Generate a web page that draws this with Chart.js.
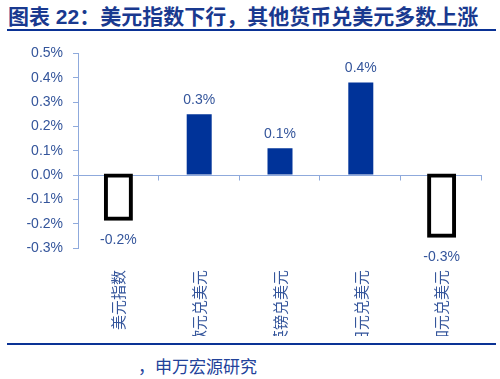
<!DOCTYPE html>
<html>
<head>
<meta charset="utf-8">
<script src="https://cdn.jsdelivr.net/npm/chart.js@4/dist/chart.umd.min.js"></script>
<style>
  html, body { margin: 0; padding: 0; background: #fff; }
  body { width: 500px; height: 379px; position: relative; overflow: hidden; font-family: "Liberation Sans", "Noto Sans CJK SC", sans-serif; }
  #title { position: absolute; left: 8px; top: 4px; font-size: 21px; font-weight: bold; color: #19398F; white-space: nowrap; line-height: 25px; }
  #titleLine { position: absolute; left: 7px; top: 29px; width: 489px; height: 2px; background: #0A3295; }
  #wrap { position: absolute; left: 0; top: 35px; width: 500px; height: 301px; overflow: hidden; }
  #footLine { position: absolute; left: 7px; top: 343px; width: 489px; height: 2px; background: #0A3295; }
  #foot { position: absolute; left: 138px; top: 355px; font-size: 17px; color: #22429A; white-space: nowrap; line-height: 22px; font-family: "Noto Sans CJK SC", sans-serif; }
</style>
</head>
<body>
<div id="title">图表 22：美元指数下行，其他货币兑美元多数上涨</div>
<div id="titleLine"></div>
<div id="wrap"><canvas id="c" width="500" height="301"></canvas></div>
<div id="footLine"></div>
<div id="foot">，申万宏源研究</div>
<script>
const categories = ["美元指数", "欧元兑美元", "英镑兑美元", "日元兑美元", "加元兑美元"];
const changes = [-0.18, 0.25, 0.11, 0.38, -0.25];
const yTicks = [-0.3, -0.2, -0.1, 0.0, 0.1, 0.2, 0.3, 0.4, 0.5];

const AXIS = '#8FAADC';
const TXT = '#34559B';
const NAVY = '#003399';

const labelPlugin = {
  id: 'valueLabels',
  afterDatasetsDraw(chart) {
    const ctx = chart.ctx;
    const meta = chart.getDatasetMeta(0);
    ctx.save();
    ctx.font = '14px "Liberation Sans", Arial, sans-serif';
    ctx.fillStyle = TXT;
    ctx.textAlign = 'center';
    meta.data.forEach((bar, i) => {
      const v = changes[i];
      const txt = v.toFixed(1) + '%';
      if (v >= 0) {
        ctx.textBaseline = 'bottom';
        ctx.fillText(txt, bar.x, bar.y - 7);
      } else {
        ctx.textBaseline = 'top';
        ctx.fillText(txt, bar.x, bar.y + 14);
      }
    });
    ctx.restore();
  }
};

const catTickPlugin = {
  id: 'catTicks',
  afterDatasetsDraw(chart) {
    const x = chart.scales.x, y = chart.scales.y;
    const y0 = Math.round(y.getPixelForValue(0)) + 0.5;
    const ctx = chart.ctx;
    ctx.save();
    ctx.strokeStyle = AXIS;
    ctx.lineWidth = 1;
    ctx.beginPath();
    for (let i = 0; i < categories.length; i++) {
      let px;
      if (i < categories.length - 1) {
        px = (x.getPixelForValue(i) + x.getPixelForValue(i + 1)) / 2;
      } else {
        px = chart.chartArea.right;
      }
      px = Math.round(px) - 0.5;
      ctx.moveTo(px, y0);
      ctx.lineTo(px, y0 + 5);
    }
    ctx.stroke();
    ctx.restore();
  }
};

new Chart(document.getElementById('c'), {
  type: 'bar',
  data: {
    labels: categories,
    datasets: [{
      data: changes,
      backgroundColor: changes.map(v => v < 0 ? '#FFFFFF' : NAVY),
      borderColor: changes.map(v => v < 0 ? '#000000' : NAVY),
      borderWidth: changes.map(v => v < 0 ? 4 : 0),
      inflateAmount: changes.map(v => v < 0 ? 2 : 0),
      borderSkipped: false,
      barThickness: 25
    }]
  },
  options: {
    responsive: false,
    animation: false,
    devicePixelRatio: 1,
    layout: { padding: { top: 16, right: 18, left: 0, bottom: 0 } },
    plugins: { legend: { display: false }, tooltip: { enabled: false } },
    scales: {
      x: {
        grid: { display: false },
        border: { display: false },
        ticks: {
          maxRotation: 90, minRotation: 90, autoSkip: false,
          padding: 14,
          color: TXT,
          font: { family: '"Noto Sans CJK SC", sans-serif', size: 15 }
        },
        afterFit(scale) { scale.height = 88; }
      },
      y: {
        min: -0.3, max: 0.5,
        afterBuildTicks(scale) { scale.ticks = yTicks.map(v => ({ value: v })); },
        grid: {
          drawOnChartArea: true,
          drawTicks: true,
          tickLength: 5,
          color: ctx => (ctx.tick && Math.abs(ctx.tick.value) < 1e-9) ? AXIS : 'rgba(0,0,0,0)',
          tickColor: AXIS
        },
        border: { display: true, color: AXIS },
        ticks: {
          padding: 10,
          color: TXT,
          font: { family: '"Liberation Sans", Arial, sans-serif', size: 14 },
          callback: v => Number(v).toFixed(1) + '%'
        },
        afterFit(scale) { scale.width = 78; }
      }
    }
  },
  plugins: [labelPlugin, catTickPlugin]
});
</script>
</body>
</html>
